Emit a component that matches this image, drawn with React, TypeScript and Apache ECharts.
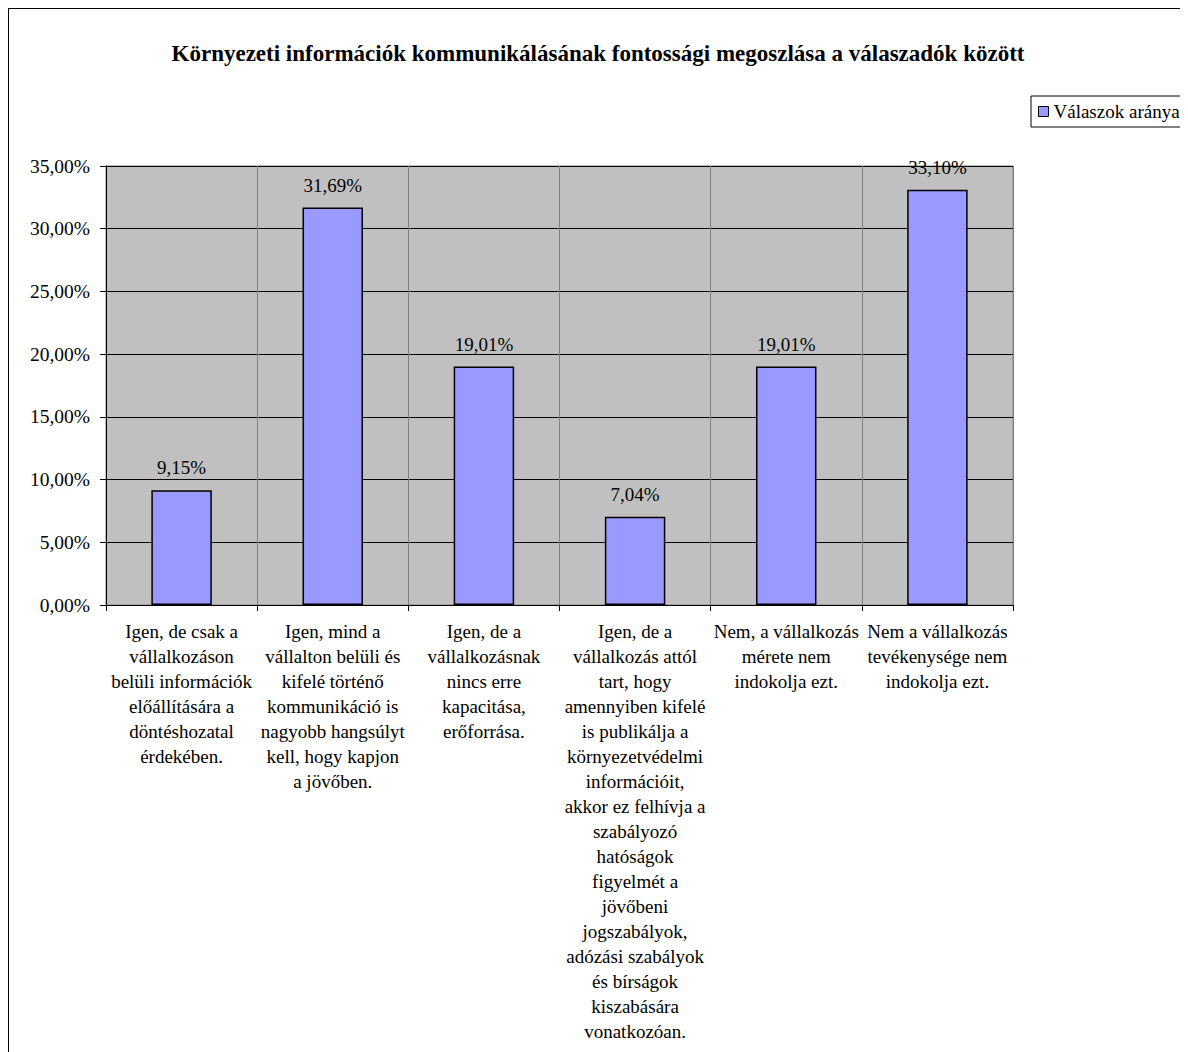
import React, { useEffect, useRef } from "react";
import * as echarts from "echarts";

const TITLE = "Környezeti információk kommunikálásának fontossági megoszlása a válaszadók között";
const SERIES_NAME = "Válaszok aránya";
const categories = [
  "Igen, de csak a\nvállalkozáson\nbelüli információk\nelőállítására a\ndöntéshozatal\nérdekében.",
  "Igen, mind a\nvállalton belüli és\nkifelé történő\nkommunikáció is\nnagyobb hangsúlyt\nkell, hogy kapjon\na jövőben.",
  "Igen, de a\nvállalkozásnak\nnincs erre\nkapacitása,\nerőforrása.",
  "Igen, de a\nvállalkozás attól\ntart, hogy\namennyiben kifelé\nis publikálja a\nkörnyezetvédelmi\ninformációit,\nakkor ez felhívja a\nszabályozó\nhatóságok\nfigyelmét a\njövőbeni\njogszabályok,\nadózási szabályok\nés bírságok\nkiszabására\nvonatkozóan.",
  "Nem, a vállalkozás\nmérete nem\nindokolja ezt.",
  "Nem a vállalkozás\ntevékenysége nem\nindokolja ezt.",
];
const values = [9.15, 31.69, 19.01, 7.04, 19.01, 33.1];
const yMin = 0;
const yMax = 35;
const yStep = 5;

const FONT = "'Liberation Serif', 'Times New Roman', serif";
const fmt = (v: number) => v.toFixed(2).replace(".", ",") + "%";

export default function App() {
  const ref = useRef<HTMLDivElement>(null);
  useEffect(() => {
    if (!ref.current) return;
    const chart = echarts.init(ref.current, undefined, { renderer: "svg" });
    chart.setOption({
      animation: false,
      backgroundColor: "#fff",
      textStyle: { fontFamily: FONT, color: "#000" },
      title: {
        text: TITLE,
        left: "center",
        top: 29,
        textStyle: { fontFamily: FONT, fontWeight: "bold", fontSize: 23, color: "#000" },
      },
      legend: {
        left: 1023,
        top: 88,
        padding: [6, 20, 6, 7],
        itemWidth: 10,
        itemHeight: 10,
        itemGap: 8,
        borderColor: "#000",
        borderWidth: 1,
        icon: "rect",
        itemStyle: { color: "#9999FF", borderColor: "#000", borderWidth: 1 },
        textStyle: { fontFamily: FONT, fontSize: 19, color: "#000" },
        data: [SERIES_NAME],
      },
      grid: {
        left: 98,
        top: 158,
        right: 175,
        bottom: 447,
        show: true,
        backgroundColor: "#C0C0C0",
        borderColor: "#808080",
        borderWidth: 1,
        containLabel: false,
      },
      xAxis: {
        type: "category",
        data: categories,
        axisLine: { show: true, lineStyle: { color: "#000", width: 1 } },
        axisTick: { show: true, length: 6, interval: 0, lineStyle: { color: "#000" } },
        splitLine: { show: true, interval: 0, lineStyle: { color: "#808080", width: 1 } },
        axisLabel: {
          interval: 0,
          margin: 14,
          fontFamily: FONT,
          fontSize: 19,
          lineHeight: 25,
          color: "#000",
          align: "center",
        },
      },
      yAxis: {
        type: "value",
        min: yMin,
        max: yMax,
        interval: yStep,
        axisLine: { show: true, lineStyle: { color: "#000", width: 1 } },
        axisTick: { show: true, length: 6, lineStyle: { color: "#000" } },
        splitLine: { show: true, lineStyle: { color: "#000", width: 1 } },
        axisLabel: {
          formatter: (v: number) => fmt(v),
          margin: 16,
          fontFamily: FONT,
          fontSize: 19.5,
          color: "#000",
        },
      },
      series: [
        {
          name: SERIES_NAME,
          type: "bar",
          data: values,
          barWidth: "40%",
          itemStyle: { color: "#9999FF", borderColor: "#000", borderWidth: 1.5 },
          label: {
            show: true,
            position: "top",
            distance: 13,
            formatter: (p: any) => fmt(p.value),
            fontFamily: FONT,
            fontSize: 19,
            color: "#000",
          },
        },
      ],
      graphic: [
        { type: "line", shape: { x1: 0.5, y1: 0, x2: 0.5, y2: 1044 }, style: { stroke: "#000", lineWidth: 1 } },
        { type: "line", shape: { x1: 0, y1: 0.5, x2: 1180, y2: 0.5 }, style: { stroke: "#000", lineWidth: 1 } },
      ],
    });
    return () => chart.dispose();
  }, []);
  return <div ref={ref} style={{ width: 1180, height: 1044 }} />;
}
